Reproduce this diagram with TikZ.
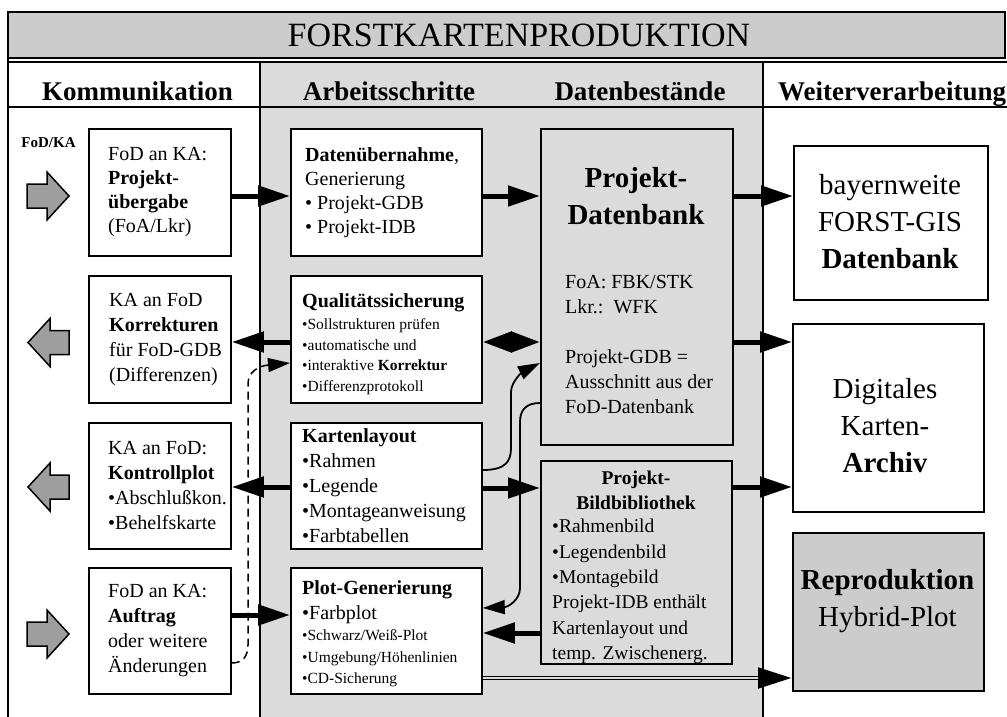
\documentclass[tikz,border=0pt]{standalone}
\usepackage{fontspec}
\setmainfont{Liberation Serif}
\usetikzlibrary{arrows.meta}
\newcommand{\myfs}[2]{\fontsize{#1}{#2}\selectfont}
\definecolor{bggray}{gray}{0.86}
\definecolor{hdgray}{gray}{0.80}
\definecolor{fatgray}{gray}{0.62}
\definecolor{repgray}{gray}{0.80}
\begin{document}
\begin{tikzpicture}[x=1pt,y=-1pt,
  box/.style={draw, line width=1.8pt, inner sep=0pt, anchor=north west, fill=white},
  graybox/.style={box, fill=bggray},
  txt/.style={inner sep=0pt, align=left, anchor=west},
  ctxt/.style={inner sep=0pt, align=center},
  head/.style={inner sep=0pt, anchor=base, font=\myfs{27}{32}\bfseries},
  thickarrow/.style={line width=5pt, -{Triangle[length=32pt,width=20pt]}},
  thinarrow/.style={line width=1.8pt, -{Triangle[length=22pt,width=14pt]}},
  frameline/.style={line width=1.8pt},
  fat/.style={draw, line width=1.5pt, fill=fatgray, line join=miter}
]
\useasboundingbox (0,0) rectangle (1007,717);
\fill[white] (0,0) rectangle (1007,717);
% backgrounds and frame
\fill[bggray] (260,62) rectangle (763,717);
\draw[frameline, fill=hdgray] (8,12) rectangle (1005,58);
\draw[frameline] (8,62) -- (1007,62);
\draw[frameline] (8,58) -- (8,717);
\draw[frameline] (8,107) -- (1007,107);
\draw[frameline] (260,62) -- (260,717);
\draw[frameline] (763,62) -- (763,717);

\node[inner sep=0pt, anchor=base, font=\myfs{34}{40}] (title) at (519,47) {FORSTKARTENPRODUKTION};
\node[head] (h1) at (137.5,100) {Kommunikation};
\node[head] (h2) at (389,100) {Arbeitsschritte};
\node[head] (h3) at (640,100) {Datenbestände};
\node[head, anchor=base west] (h4) at (778,100) {Weiterverarbeitung};
\node[inner sep=0pt, font=\myfs{15}{18}\bfseries] (fodka) at (48.5,143) {FoD/KA};

% fat arrows
\draw[fat] (27,184) -- (47,184) -- (47,172) -- (69,196) -- (47,220) -- (47,208) -- (27,208) -- cycle;
\draw[fat] (69,330.5) -- (50,330.5) -- (50,318.5) -- (28,342.5) -- (50,366.5) -- (50,354.5) -- (69,354.5) -- cycle;
\draw[fat] (69,475) -- (50,475) -- (50,463) -- (28,487) -- (50,511) -- (50,499) -- (69,499) -- cycle;
\draw[fat] (27,622) -- (47,622) -- (47,610) -- (69,634) -- (47,658) -- (47,646) -- (27,646) -- cycle;

% boxes
\node[box, minimum width=142pt, minimum height=127pt] (k1) at (88,128) {};
\node[box, minimum width=142pt, minimum height=127pt] (k2) at (88,275) {};
\node[box, minimum width=142pt, minimum height=126pt] (k3) at (88,422) {};
\node[box, minimum width=142pt, minimum height=126pt] (k4) at (88,567) {};
\node[box, minimum width=191pt, minimum height=127pt] (a1) at (290,128) {};
\node[box, minimum width=191pt, minimum height=127pt] (a2) at (290,275) {};
\node[box, minimum width=191pt, minimum height=126pt] (a3) at (290,422) {};
\node[box, minimum width=191pt, minimum height=126pt] (a4) at (290,567) {};
\node[graybox, minimum width=192pt, minimum height=316pt] (d1) at (540,128) {};
\node[graybox, minimum width=191pt, minimum height=203pt] (d2) at (540,460) {};
\node[box, minimum width=194pt, minimum height=154pt] (w1) at (793,145) {};
\node[box, minimum width=191pt, minimum height=188pt] (w2) at (792,323) {};
\node[box, fill=repgray, minimum width=191pt, minimum height=158pt] (w3) at (792,532) {};

% texts
\node[txt, font=\myfs{20}{24}] (k1t) at ([xshift=20pt]k1.west) {FoD an KA:\\\textbf{Projekt-}\\\textbf{übergabe}\\(FoA/Lkr)};
\node[txt, font=\myfs{20}{25}] (k2t) at ([xshift=21pt]k2.west) {KA an FoD\\\textbf{Korrekturen}\\für FoD-GDB\\(Differenzen)};
\node[txt, font=\myfs{20}{25}] (k3t) at ([xshift=20pt]k3.west) {KA an FoD:\\\textbf{Kontrollplot}\\•Abschlußkon.\\•Behelfskarte};
\node[txt, font=\myfs{20}{25}] (k4t) at ([xshift=20pt]k4.west) {FoD an KA:\\\textbf{Auftrag}\\oder weitere\\Änderungen};

\node[txt, font=\myfs{20}{24}] (a1t) at ([xshift=15pt]a1.west) {\textbf{Datenübernahme},\\Generierung\\• Projekt-GDB\\• Projekt-IDB};
\node[txt, font=\myfs{15.5}{20.5}] (a2t) at ([xshift=12pt,yshift=-5pt]a2.west) {{\myfs{20}{24}\bfseries Qualitätssicherung}\\[1.5pt]•Sollstrukturen prüfen\\•automatische und\\•interaktive \textbf{Korrektur}\\•Differenzprotokoll};
\node[txt, font=\myfs{20}{25}] (a3t) at ([xshift=12pt]a3.west) {\textbf{Kartenlayout}\\•Rahmen\\•Legende\\•Montageanweisung\\•Farbtabellen};
\node[txt, font=\myfs{15.5}{21.5}] (a4t) at ([xshift=12pt,yshift=-3pt]a4.west) {{\myfs{20}{24}\bfseries Plot-Generierung}\\[3.5pt]{\myfs{20}{24}•Farbplot}\\•Schwarz/Weiß-Plot\\•Umgebung/Höhenlinien\\•CD-Sicherung};

\node[ctxt, font=\myfs{29}{37}\bfseries] (d1h) at (636,196.5) {Projekt-\\Datenbank};
\node[txt, font=\myfs{20}{25}] (d1t) at (565,344.5) {FoA: FBK/STK\\Lkr.:~~WFK\\[25pt]Projekt-GDB =\\Ausschnitt aus der\\FoD-Datenbank};
\node[ctxt, font=\myfs{19.5}{25}\bfseries] (d2h) at (636,490.5) {Projekt-\\Bildbibliothek};
\node[txt, font=\myfs{19.5}{25.4}] (d2t) at (552,591.5) {•Rahmenbild\\•Legendenbild\\•Montagebild\\Projekt-IDB enthält\\Kartenlayout und\\temp. Zwischenerg.};

\node[ctxt, font=\myfs{29}{37}] (w1t) at (890,221.5) {bayernweite\\FORST-GIS\\\textbf{Datenbank}};
\node[ctxt, font=\myfs{29}{37}] (w2t) at (885,425.5) {Digitales\\Karten-\\\textbf{Archiv}};
\node[ctxt, font=\myfs{29}{37}] (w3t) at (887.5,601.5) {\textbf{Reproduktion}\\Hybrid-Plot};

% connectors
\draw[thickarrow] (k1.east |- 0,196) -- (a1.west |- 0,196);
\draw[thickarrow] (a1.east |- 0,196) -- (d1.west |- 0,196);
\draw[thickarrow] (d1.east |- 0,196) -- (w1.west |- 0,196);
\draw[thickarrow] (a2.west |- 0,342) -- (k2.east |- 0,342);
\draw[line width=5pt, {Triangle[length=29pt,width=20pt]}-{Triangle[length=29pt,width=20pt]}] (a2.east |- 0,342) -- (d1.west |- 0,342);
\draw[thickarrow] (d1.east |- 0,342) -- (w2.west |- 0,342);
\draw[thickarrow] (a3.west |- 0,487) -- (k3.east |- 0,487);
\draw[thinarrow] (d1.west |- 0,403) .. controls (526,403) and (520,410) .. (520,422) -- (520,588) .. controls (520,600) and (508,607) .. (a4.east |- 0,608);
\draw[thickarrow] (a3.east |- 0,488) -- (d2.west |- 0,488);
\draw[thickarrow] (d2.east |- 0,487) -- (w2.west |- 0,487);
\draw[thickarrow] (k4.east |- 0,615) -- (a4.west |- 0,615);
\draw[thickarrow] (d2.west |- 0,633) -- (a4.east |- 0,633);
\draw[thinarrow] (a3.east |- 0,470) .. controls (505,470) and (511,462) .. (511,448) -- (511,392) .. controls (511,381) and (524,371) .. (d1.west |- 0,363);
\draw[line width=1.5pt, dash pattern=on 8pt off 5pt, -{Triangle[length=22pt,width=14pt]}] (k4.east |- 0,663) .. controls (243,663) and (248,656) .. (248,645) -- (248,384) .. controls (248,372) and (258,366) .. (a2.west |- 0,363);
\coordinate (dblend) at (758,678);
\draw[line width=1.3pt, double=bggray, double distance=2.2pt] (a4.east |- 0,678) -- (dblend);
\draw[line width=5pt, -{Triangle[length=34pt,width=20pt]}] (dblend) -- (w3.west |- 0,678);
\end{tikzpicture}
\end{document}
